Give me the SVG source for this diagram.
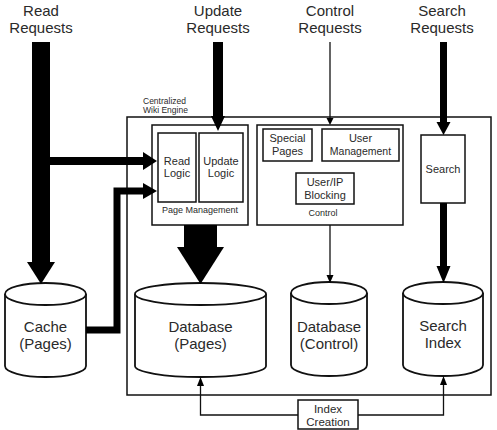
<svg xmlns="http://www.w3.org/2000/svg" width="497" height="430" viewBox="0 0 497 430">
<style>
text{font-family:"Liberation Sans",Arial,sans-serif;fill:#2a2a2a;text-anchor:middle}
.lbl{font-size:15px}
.mid{font-size:11px}
.sm{font-size:9px}
.box{fill:#fff;stroke:#111;stroke-width:1.5}
.cyl{fill:#fff;stroke:#111;stroke-width:1.8}
.thin{fill:none;stroke:#111;stroke-width:1.3}
.thick{fill:none;stroke:#000;stroke-width:7;stroke-linejoin:miter}
.head{fill:#000}
</style>
<rect width="497" height="430" fill="#fff"/>

<g id="labels">
<text class="lbl" x="41" y="16">Read</text><text class="lbl" x="41" y="33">Requests</text>
<text class="lbl" x="218" y="16">Update</text><text class="lbl" x="218" y="33">Requests</text>
<text class="lbl" x="330" y="16">Control</text><text class="lbl" x="330" y="33">Requests</text>
<text class="lbl" x="442" y="16">Search</text><text class="lbl" x="442" y="33">Requests</text>
</g>

<g id="engine">
<rect class="box" x="127" y="117" width="364" height="278" fill="none"/>
<text class="sm" x="143" y="104" style="text-anchor:start;font-size:8.5px">Centralized</text>
<text class="sm" x="143" y="113" style="text-anchor:start;font-size:8.5px">Wiki Engine</text>
</g>

<g id="page-management">
<rect class="box" x="152" y="125" width="96" height="100"/>
<text class="sm" x="200" y="213">Page Management</text>
</g>
<g id="read-logic">
<rect class="box" x="158" y="133" width="38" height="69"/>
<text class="mid" x="177" y="165">Read</text><text class="mid" x="177" y="177">Logic</text>
</g>
<g id="update-logic">
<rect class="box" x="199" y="133" width="44" height="69"/>
<text class="mid" x="221" y="165">Update</text><text class="mid" x="221" y="177">Logic</text>
</g>

<g id="control">
<rect class="box" x="257" y="125" width="146" height="100"/>
<text class="sm" x="323" y="216">Control</text>
</g>
<g id="special-pages">
<rect class="box" x="263" y="129" width="49" height="32"/>
<text class="mid" x="287.5" y="142">Special</text><text class="mid" x="287.5" y="155">Pages</text>
</g>
<g id="user-management">
<rect class="box" x="322" y="129" width="77" height="32"/>
<text class="mid" x="360.5" y="142">User</text><text class="mid" x="360.5" y="155" style="font-size:10.5px">Management</text>
</g>
<g id="user-ip-blocking">
<rect class="box" x="296" y="173" width="58" height="31"/>
<text class="mid" x="325" y="186">User/IP</text><text class="mid" x="325" y="199">Blocking</text>
</g>

<g id="search">
<rect class="box" x="421" y="135" width="44" height="68"/>
<text class="mid" x="443" y="173">Search</text>
</g>

<g id="cache">
<path class="cyl" d="M5,294 V366 A40.5,11 0 0 0 86,366 V294"/>
<ellipse class="cyl" cx="45.5" cy="294" rx="40.5" ry="11"/>
<text class="lbl" x="45.5" y="332">Cache</text><text class="lbl" x="45.5" y="349">(Pages)</text>
</g>
<g id="db-pages">
<path class="cyl" d="M135,294 V366 A65.5,11 0 0 0 266,366 V294"/>
<ellipse class="cyl" cx="200.5" cy="294" rx="65.5" ry="11"/>
<text class="lbl" x="200.5" y="332">Database</text><text class="lbl" x="200.5" y="349">(Pages)</text>
</g>
<g id="db-control">
<path class="cyl" d="M291,293 V365 A38,11 0 0 0 367,365 V293"/>
<ellipse class="cyl" cx="329" cy="293" rx="38" ry="11"/>
<text class="lbl" x="329" y="332">Database</text><text class="lbl" x="329" y="349">(Control)</text>
</g>
<g id="search-index">
<path class="cyl" d="M403,293 V365 A40,11 0 0 0 483,365 V293"/>
<ellipse class="cyl" cx="443" cy="293" rx="40" ry="11"/>
<text class="lbl" x="443" y="331">Search</text><text class="lbl" x="443" y="348">Index</text>
</g>

<g id="index-creation">
<rect class="box" x="298" y="400" width="60" height="29"/>
<text class="mid" x="328" y="413" style="font-size:11.5px">Index</text><text class="mid" x="328" y="426" style="font-size:11.5px">Creation</text>
</g>

<g id="connectors">
<rect class="head" x="32" y="42" width="18" height="221"/>
<polygon class="head" points="27,262 55,262 41,284"/>
<rect class="head" x="50" y="157" width="94" height="8"/>
<polygon class="head" points="143,152 157,161 143,170"/>
<path class="thick" d="M86,330 H117 V191 H145"/>
<polygon class="head" points="143,183 157,191 143,199"/>
<rect class="head" x="213" y="42" width="10" height="75"/>
<polygon class="head" points="211,116 225,116 218,131"/>
<rect class="head" x="184" y="225" width="33" height="23"/>
<polygon class="head" points="177,247 224,247 200.5,284"/>
<line class="thin" x1="330" y1="42" x2="330" y2="120"/>
<polygon class="head" points="326.5,118 333.5,118 330,125"/>
<line class="thin" x1="330" y1="225" x2="330" y2="277"/>
<polygon class="head" points="326.5,275 333.5,275 330,283"/>
<rect class="head" x="440" y="42" width="7" height="81"/>
<polygon class="head" points="436.5,122 450.5,122 443.5,135"/>
<rect class="head" x="440" y="203" width="7" height="64"/>
<polygon class="head" points="436.5,266 450.5,266 443.5,283"/>
<path class="thin" d="M298,415 H200.5 V384"/>
<polygon class="head" points="197,386 204,386 200.5,377"/>
<path class="thin" d="M358,415 H443.5 V384"/>
<polygon class="head" points="440,385 447,385 443.5,376"/>
</g>
</svg>
